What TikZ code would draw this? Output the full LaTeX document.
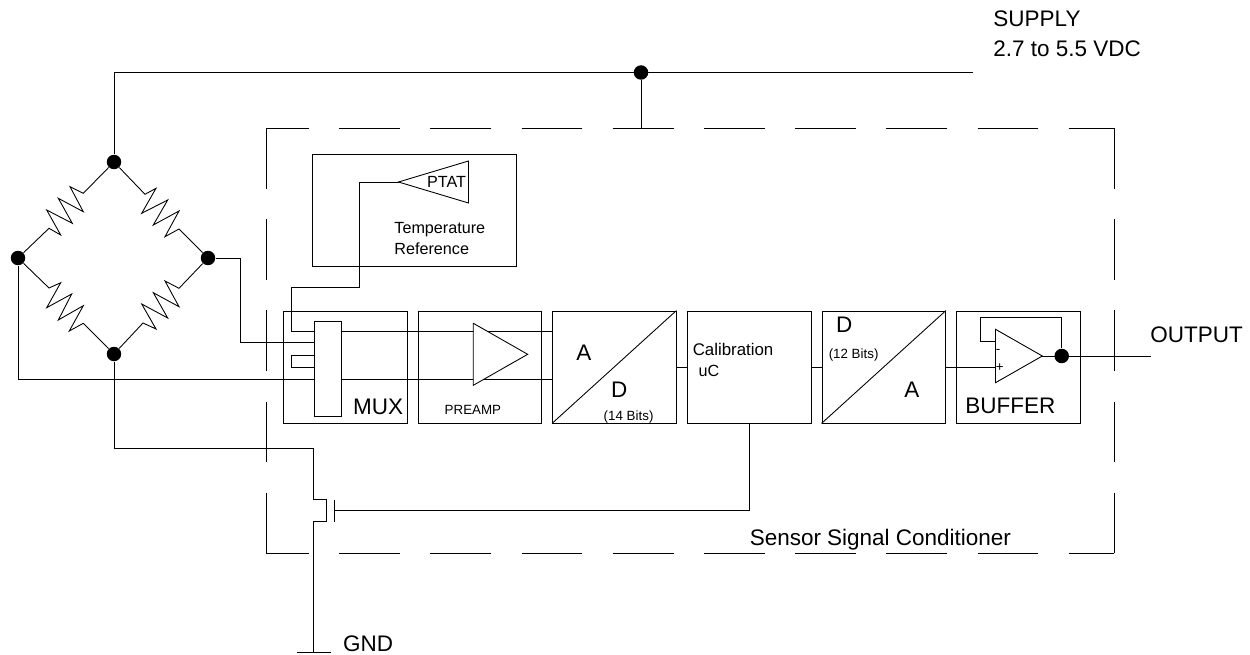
\documentclass[tikz,border=0pt]{standalone}
\usepackage{fontspec}
\setmainfont{Liberation Sans}
\tikzset{
  blockbox/.style={draw,minimum width=2.47cm,minimum height=2.24cm,inner sep=0pt},
  joint/.style={circle,fill=black,inner sep=0pt,minimum size=0.29cm},
  biglabel/.style={anchor=base west,inner sep=0pt,font=\fontsize{12.8}{15}\selectfont},
  midlabel/.style={anchor=base west,inner sep=0pt,font=\fontsize{9.2}{11}\selectfont},
  tinylabel/.style={anchor=base west,inner sep=0pt,font=\fontsize{7.6}{9}\selectfont},
  framedash/.style={dash pattern=on 34.6pt off 17.3pt},
}
\begin{document}
\begin{tikzpicture}[x=0.02cm,y=-0.02cm,line width=0.5pt]
\useasboundingbox (0,0) rectangle (1250,655);
% bridge
\node[joint] (btop) at (114,162) {};
\node[joint] (bleft) at (18,258) {};
\node[joint] (bright) at (208,258) {};
\node[joint] (bbot) at (114,354) {};
\draw (btop) -- (83.3,193.3) -- (70,186.7) -- (83.3,211.7) -- (58.3,198.3) -- (72.3,223.3) -- (46.7,210) -- (60.7,235) -- (49,228.3) -- (bleft);
\draw (btop) -- (145,194.3) -- (156,188.3) -- (141.7,213.3) -- (167.7,200) -- (153.3,225) -- (179,211) -- (165,236.7) -- (179,229) -- (bright);
\draw (bleft) -- (49,288) -- (60.7,282.7) -- (46.7,307.7) -- (71.7,294) -- (58.3,320) -- (83.3,305.7) -- (69.3,331) -- (83.3,323.3) -- (bbot);
\draw (bbot) -- (143,323) -- (156,329) -- (141.7,304) -- (167.7,318) -- (153.3,292.7) -- (179,306.7) -- (165,281) -- (179,288.3) -- (bright);
% supply
\node[joint] (sdot) at (641,72.5) {};
\coordinate (scorner) at (114,72.5);
\coordinate (send) at (973,72.5);
\draw (btop) -- (scorner) -- (send);
% frame
\coordinate (fnw) at (266,128);
\coordinate (fne) at (1114,128);
\coordinate (fsw) at (266,553);
\coordinate (fse) at (1114,553);
\draw[framedash] (fnw) -- (fsw);
\draw[framedash] (fne) -- (fse);
\draw[framedash,dash phase=10.2pt] (fnw) -- (fne);
\draw[framedash,dash phase=10.2pt] (fsw) -- (fse);
\draw (sdot) -- (sdot |- fnw);
% blocks
\node[blockbox] (mux) at (345.3,367) {};
\node[blockbox] (preamp) at (479.9,367) {};
\node[blockbox] (adc) at (614.2,367) {};
\node[blockbox] (cal) at (749.2,367) {};
\node[blockbox] (dac) at (883.7,367) {};
\node[blockbox] (buf) at (1018.2,367) {};
\node[draw,minimum width=4.08cm,minimum height=2.25cm,inner sep=0pt] (tref) at (414.8,210.2) {};
\node[draw,minimum width=0.55cm,minimum height=1.9cm,inner sep=0pt] (slab) at (327.7,368.5) {};
% converters
\draw (adc.south west) -- (adc.north east);
\draw (dac.south west) -- (dac.north east);
% mux inputs
\coordinate (inA) at (314,342.7);
\coordinate (inAt) at (240,342.7);
\coordinate (inAr) at (240,258);
\draw (bright) -- (inAr) -- (inAt) -- (inA);
\coordinate (inB) at (314,379);
\coordinate (inBl) at (18,379);
\draw (bleft) -- (inBl) -- (inB);
\coordinate (loopa) at (314,355);
\coordinate (loopb) at (291,355);
\coordinate (loopc) at (291,367.3);
\coordinate (loopd) at (314,367.3);
\draw (loopa) -- (loopb) -- (loopc) -- (loopd);
% ptat wire
\coordinate (ptip) at (398.5,182);
\coordinate (pbt) at (468.5,161);
\coordinate (pbb) at (468.5,203);
\coordinate (pw1) at (359.5,182);
\coordinate (pw2) at (359.5,287.7);
\coordinate (pw3) at (291,287.7);
\coordinate (pw4) at (291,331);
\coordinate (pw5) at (314,331);
\draw (ptip) -- (pw1) -- (pw2) -- (pw3) -- (pw4) -- (pw5);
\draw (ptip) -- (pbt) -- (pbb) -- cycle;
% preamp
\draw (slab.east |- pw4) -- (adc.west |- pw4);
\draw (slab.east |- inB) -- (adc.west |- inB);
\coordinate (atip) at (527.7,354.3);
\coordinate (abt) at (473.3,323.3);
\coordinate (abb) at (473.3,385.3);
\draw[fill=white] (atip) -- (abt) -- (abb) -- cycle;
% chain
\draw (adc.east) -- (cal.west);
\draw (cal.east) -- (dac.west);
% buffer
\coordinate (otip) at (1042.3,356);
\coordinate (obt) at (995.5,329.3);
\coordinate (obb) at (995.5,382.7);
\node[joint] (odot) at (1061.7,356) {};
\coordinate (oend) at (1151,356);
\coordinate (fb1) at (1061.7,317.7);
\coordinate (fb2) at (980.3,317.7);
\coordinate (fb3) at (980.3,341.7);
\coordinate (fb4) at (995.5,341.7);
\draw (dac.east) -- (obt |- dac.east);
\draw (odot) -- (fb1) -- (fb2) -- (fb3) -- (fb4);
\draw (otip) -- (oend);
\draw (otip) -- (obt) -- (obb) -- cycle;
% ground switch
\coordinate (g1) at (114,448);
\coordinate (g2) at (313.3,448);
\coordinate (g3) at (313.3,499.3);
\coordinate (g4) at (326,499.3);
\coordinate (g5) at (326,521.7);
\coordinate (g6) at (313.3,521.7);
\coordinate (g7) at (313.3,652.7);
\coordinate (gbarl) at (296.7,652.7);
\coordinate (gbarr) at (330.7,652.7);
\draw (bbot) -- (g1) -- (g2) -- (g3) -- (g4) -- (g5) -- (g6) -- (g7);
\draw (gbarl) -- (gbarr);
\coordinate (gate) at (334.5,510.7);
\coordinate (gatet) at (334.5,500);
\coordinate (gateb) at (334.5,521.7);
\draw (gatet) -- (gateb);
\draw (gate) -- (gate -| cal.south) -- (cal.south);
% labels
\node[biglabel] (lsup) at (993,26.4) {SUPPLY};
\node[biglabel] (lvdc) at (993,56.8) {2.7 to 5.5 VDC};
\node[biglabel] (lout) at (1150,342.3) {OUTPUT};
\node[biglabel] (lgnd) at (342.7,651) {GND};
\node[biglabel] (lssc) at (749.3,545) {Sensor Signal Conditioner};
\node[biglabel] (lmux) at (352.7,414) {MUX};
\node[biglabel] (lbuf) at (965,413.3) {BUFFER};
\node[biglabel] (la1) at (576,360) {A};
\node[biglabel] (ld1) at (610.7,397.3) {D};
\node[biglabel] (ld2) at (835.7,332.7) {D};
\node[biglabel] (la2) at (904,397.3) {A};
\node[tinylabel] (lpre) at (444.3,414) {PREAMP};
\node[tinylabel] (lb14) at (603.3,420.7) {(14 Bits)};
\node[tinylabel] (lb12) at (828.3,358.3) {(12 Bits)};
\node[midlabel,font=\fontsize{9.6}{11}\selectfont] (lcal) at (692.3,355) {Calibration};
\node[midlabel] (luc) at (698.3,376) {uC};
\node[midlabel] (ltemp) at (394,234) {Temperature};
\node[midlabel] (lref) at (394,254.3) {Reference};
\node[midlabel] (lptat) at (426.7,187.7) {PTAT};
\node[tinylabel] (lminus) at (995.5,353) {-};
\node[tinylabel] (lplus) at (995.5,371) {+};
\end{tikzpicture}
\end{document}
